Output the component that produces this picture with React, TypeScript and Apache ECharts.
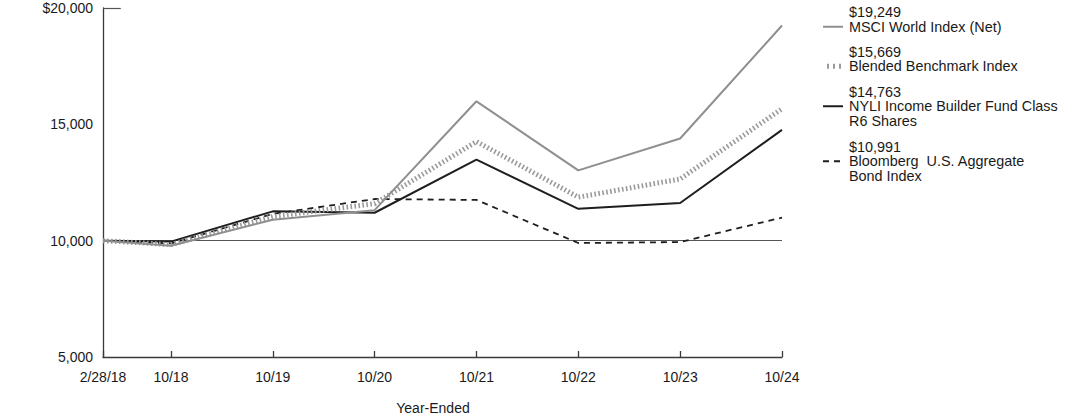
import React, { useEffect, useRef } from "react";
import * as echarts from "echarts";

const months = [0, 8, 20, 32, 44, 56, 68, 80];
const tickLabels = ["2/28/18", "10/18", "10/19", "10/20", "10/21", "10/22", "10/23", "10/24"];
const msci = [10000, 9780, 10900, 11310, 15990, 13020, 14390, 19249];
const blended = [10000, 9830, 11040, 11590, 14260, 11870, 12650, 15669];
const fund = [10000, 9960, 11260, 11200, 13480, 11370, 11620, 14763];
const bond = [10000, 9880, 11150, 11790, 11750, 9900, 9940, 10991];
const seriesNames = [
  "MSCI World Index (Net)",
  "Blended Benchmark Index",
  "NYLI Income Builder Fund Class\nR6 Shares",
  "Bloomberg  U.S. Aggregate\nBond Index",
];
const yTicks = [5000, 10000, 15000, 20000];

const FONT = "Arial, 'Liberation Sans', Helvetica, sans-serif";

export default function App() {
  const ref = useRef<HTMLDivElement>(null);
  useEffect(() => {
    if (!ref.current) return;
    const chart = echarts.init(ref.current, undefined, { renderer: "svg" });
    const toPairs = (vals: number[]) => months.map((m, i) => [m, vals[i]]);
    const styles = [
      { color: "#8f8f8f", width: 2, type: "solid" as any },
      { color: "#9a9a9a", width: 5, type: [1.6, 2.4] as any },
      { color: "#1e1e1e", width: 2, type: "solid" as any },
      { color: "#1e1e1e", width: 1.8, type: [6, 5] as any },
    ];
    const data = [msci, blended, fund, bond];
    const itemTops = [5, 44.5, 84.5, 139.5];
    const LH = 14.5;
    const legendGraphics: any[] = [];
    data.forEach((vals, i) => {
      const last = vals[vals.length - 1];
      const top = itemTops[i];
      legendGraphics.push({
        type: "text",
        left: 849,
        top: top,
        style: {
          text: `$${last.toLocaleString("en-US")}\n${seriesNames[i]}`,
          font: `14.4px ${FONT}`,
          lineHeight: LH,
          fill: "#1a1a1a",
        },
      });
      const iy = top + LH * 1.5;
      const s = styles[i];
      const x1 = i === 1 ? 827 : 823;
      legendGraphics.push({
        type: "line",
        shape: { x1, y1: iy, x2: i === 1 ? 842 : 843, y2: iy },
        style: { stroke: s.color, lineWidth: s.width, lineDash: Array.isArray(s.type) ? (i === 1 ? [2, 4] : s.type) : null },
      });
    });
    legendGraphics.push({
      type: "text",
      x: 433,
      y: 408,
      style: {
        text: "Year-Ended",
        font: `14px ${FONT}`,
        fill: "#1a1a1a",
        align: "center",
        verticalAlign: "middle",
      },
    });

    chart.setOption({
      animation: false,
      textStyle: { fontFamily: FONT },
      grid: { left: 103, top: 8, width: 679, height: 349 },
      xAxis: {
        type: "value",
        min: 0,
        max: 80,
        axisLine: { show: true, lineStyle: { color: "#3a3a3a", width: 1.3 } },
        axisTick: { show: true, inside: true, length: 6, customValues: months, lineStyle: { color: "#3a3a3a", width: 1.3 } },
        axisLabel: {
          customValues: months,
          formatter: (v: number) => tickLabels[months.indexOf(v)] ?? "",
          color: "#1a1a1a",
          fontSize: 14,
          margin: 13,
          fontFamily: FONT,
        },
        splitLine: { show: false },
      },
      yAxis: {
        type: "value",
        min: 5000,
        max: 20000,
        interval: 5000,
        axisLine: { show: true, lineStyle: { color: "#3a3a3a", width: 1.3 } },
        axisTick: { show: false },
        axisLabel: {
          customValues: yTicks,
          formatter: (v: number) => (v === 20000 ? "$" : "") + v.toLocaleString("en-US"),
          color: "#1a1a1a",
          fontSize: 14,
          margin: 10,
          fontFamily: FONT,
        },
        splitLine: { show: false },
      },
      graphic: legendGraphics,
      series: [
        {
          type: "line",
          data: [],
          silent: true,
          markLine: {
            silent: true,
            symbol: "none",
            label: { show: false },
            lineStyle: { color: "#555", width: 1.2, type: "solid" },
            data: [
              { yAxis: 10000 },
              [{ coord: [0, 20000] }, { coord: [2.1, 20000] }],
            ],
          },
        },
        ...data.map((vals, i) => ({
          type: "line",
          name: seriesNames[i],
          data: toPairs(vals),
          symbol: "none",
          z: 10 - i,
          lineStyle: styles[i],
        })),
      ],
    });
    return () => chart.dispose();
  }, []);
  return (
    <div
      ref={ref}
      style={{ position: "fixed", left: 0, top: 0, width: 1092, height: 417, background: "#fff" }}
    />
  );
}
